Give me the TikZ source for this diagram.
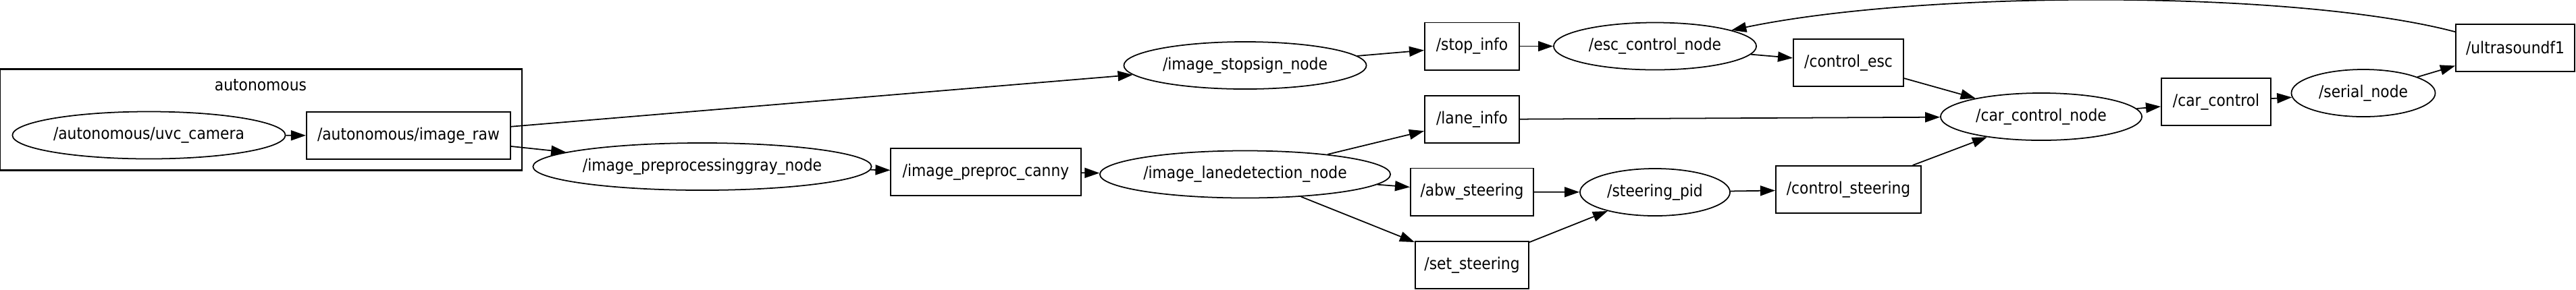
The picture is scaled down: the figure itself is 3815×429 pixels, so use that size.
\documentclass[tikz,border=0pt]{standalone}
\usepackage{fontspec}
\setmainfont{DejaVu Sans Condensed}
\usepackage{tikz}
\usetikzlibrary{arrows.meta,shapes.geometric}

\begin{document}
\begin{tikzpicture}[x=0.01cm, y=-0.01cm, font=\fontsize{6.9}{8}\selectfont,
  topic/.style={draw, rectangle, line width=0.55pt, inner sep=0pt, minimum height=0.7cm},
  rosnode/.style={draw, ellipse, line width=0.5pt, inner sep=0pt, minimum height=0.7cm},
  edge/.style={-{Triangle[length=0.22cm, width=0.15cm]}, line width=0.5pt}]
\useasboundingbox (0,0) rectangle (3815,429);
% namespace cluster
\draw[line width=0.8pt] (0,102.7) rectangle (773,252.7);
\node (clabel) at (386,126) {autonomous};
\node[rosnode, minimum width=4.04cm] (cam) at (220.5,200.5) {/autonomous/uvc\_camera};
\node[topic, minimum width=3.02cm] (raw) at (605,201) {/autonomous/image\_raw};
% image processing
\node[rosnode, minimum width=5.01cm] (gray) at (1040,247) {/image\_preprocessinggray\_node};
\node[topic, minimum width=2.81cm] (canny) at (1460,255) {/image\_preproc\_canny};
\node[rosnode, minimum width=3.59cm] (stopsign) at (1844,97) {/image\_stopsign\_node};
\node[rosnode, minimum width=4.30cm] (lanedet) at (1844,258.5) {/image\_lanedetection\_node};
% topics out of detection
\node[topic, minimum width=1.40cm] (stopinfo) at (2180,68.5) {/stop\_info};
\node[topic, minimum width=1.40cm] (laneinfo) at (2180,177) {/lane\_info};
\node[topic, minimum width=1.82cm] (abw) at (2180,284.5) {/abw\_steering};
\node[topic, minimum width=1.68cm] (setsteer) at (2180,393) {/set\_steering};
% controllers
\node[rosnode, minimum width=3.00cm] (esc) at (2451,68.5) {/esc\_control\_node};
\node[rosnode, minimum width=2.22cm] (pid) at (2451,285) {/steering\_pid};
\node[topic, minimum width=1.63cm] (ctlesc) at (2737.5,93) {/control\_esc};
\node[topic, minimum width=2.15cm] (ctlsteer) at (2737.5,281) {/control\_steering};
\node[rosnode, minimum width=2.98cm] (carnode) at (3023,173) {/car\_control\_node};
\node[topic, minimum width=1.62cm] (carctl) at (3282,151) {/car\_control};
\node[rosnode, minimum width=2.13cm] (serial) at (3500,138) {/serial\_node};
\node[topic, minimum width=1.76cm] (ultra) at (3725,71) {/ultrasoundf1};
% edges
\draw[edge] (cam) -- (raw);
\draw[edge] (raw.5) -- (stopsign);
\draw[edge] (raw.-6) -- (gray);
\draw[edge] (gray) -- (canny);
\draw[edge] (canny) -- (lanedet);
\draw[edge] (stopsign) -- (stopinfo);
\draw[edge] (stopinfo) -- (esc);
\draw[edge] (esc) -- (ctlesc);
\draw[edge] (lanedet) -- (laneinfo);
\draw[edge] (lanedet) -- (abw);
\draw[edge] (lanedet) -- (setsteer);
\draw[edge] (abw) -- (pid);
\draw[edge] (setsteer) -- (pid);
\draw[edge] (pid) -- (ctlsteer);
\draw[edge] (laneinfo) -- (carnode);
\draw[edge] (ctlesc) -- (carnode);
\draw[edge] (ctlsteer) -- (carnode);
\draw[edge] (carnode) -- (carctl);
\draw[edge] (carctl) -- (serial);
\draw[edge] (serial) -- (ultra);
\draw[edge] (ultra.165) .. controls (3400,-15) and (2850,-15) .. (esc);
\end{tikzpicture}
\end{document}
